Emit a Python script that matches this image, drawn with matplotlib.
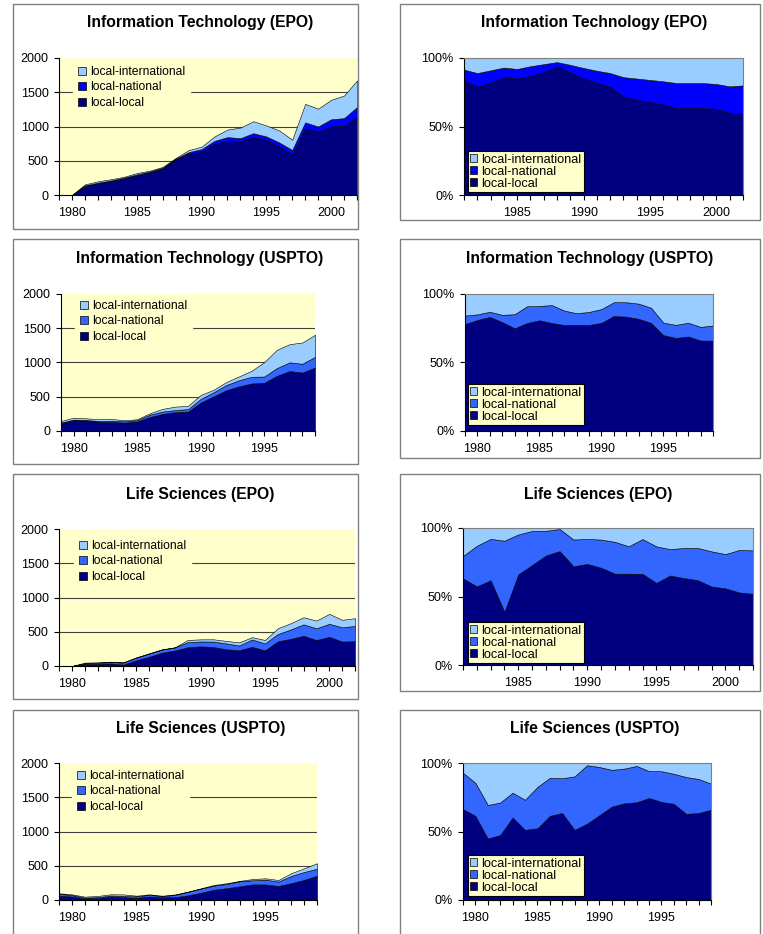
import matplotlib.pyplot as plt
from matplotlib.patches import Patch, Rectangle

plt.rcParams['font.family'] = ['Liberation Sans', 'DejaVu Sans']

W, H = 763, 934

# ---- data ----
years_epo = list(range(1979, 2003))
years_us = list(range(1979, 2000))
years_epo_pct = list(range(1981, 2003))

# Information Technology (EPO), counts
it_epo_ll = [0, 0, 130, 170, 200, 240, 285, 330, 385, 520, 600, 630, 745, 795, 780, 845, 805, 710, 595, 975, 925, 1000, 1010, 1145]
it_epo_nat = [0, 0, 10, 10, 12, 12, 15, 12, 12, 10, 25, 40, 45, 50, 50, 57, 50, 57, 62, 85, 75, 105, 112, 138]
it_epo_int = [0, 0, 15, 20, 18, 13, 20, 13, 13, 10, 30, 35, 65, 110, 155, 175, 160, 175, 150, 270, 260, 285, 330, 390]
# Information Technology (EPO), shares shown in the 100% chart
it_epo_ll_pct = [84, 79, 82, 86, 85, 87, 89.5, 94, 89.5, 85, 82, 79, 72, 69.5, 68, 66, 63.5, 63.5, 63.5, 63, 60, 60]
it_epo_nat_pct = [7.5, 10, 9, 7, 7, 7, 6, 3, 5.5, 7.7, 8.7, 10, 14, 15.5, 16, 17, 18.2, 18.2, 18.2, 18, 19.3, 20]
it_epo_int_pct = [8.5, 11, 9, 7, 8, 6, 4.5, 3, 5, 7.3, 9.3, 11, 14, 15, 16, 17, 18.3, 18.3, 18.3, 19, 20.7, 20]

# Information Technology (USPTO)
it_us_ll = [114, 158, 154, 136, 132, 123, 139, 205, 250, 276, 284, 416, 504, 595, 652, 694, 704, 806, 875, 853, 927]
it_us_nat = [9, 8, 7, 9, 18, 19, 18, 34, 34, 30, 35, 53, 60, 75, 88, 97, 91, 113, 127, 129, 155]
it_us_int = [23, 29, 24, 26, 26, 14, 15, 21, 39, 50, 48, 58, 36, 43, 56, 88, 211, 267, 266, 310, 323]

# Life Sciences (EPO)
ls_epo_ll = [0, 0, 31, 31, 39, 21, 84, 135, 195, 227, 274, 287, 277, 244, 230, 280, 228, 360, 396, 441, 380, 426, 357, 363]
ls_epo_nat = [0, 0, 8, 16, 19, 28, 37, 46, 44, 44, 74, 71, 80, 85, 69, 107, 101, 106, 137, 167, 170, 190, 209, 221]
ls_epo_int = [0, 0, 10, 7, 5, 5, 6, 4, 5, 2, 32, 31, 33, 37, 46, 34, 51, 85, 91, 104, 113, 145, 108, 114]

# Life Sciences (USPTO)
ls_us_ll = [65, 51, 22, 28, 50, 42, 33, 51, 40, 42, 68, 106, 150, 173, 199, 228, 227, 205, 246, 294, 354]
ls_us_nat = [26, 20, 12, 14, 15, 18, 19, 23, 16, 32, 52, 60, 59, 62, 74, 60, 71, 64, 105, 115, 102]
ls_us_int = [7, 12, 15, 17, 18, 22, 11, 9, 7, 8, 2, 5, 11, 10, 6, 18, 19, 23, 40, 54, 81]

labels = ['local-international', 'local-national', 'local-local']

NAVY = '#000080'
BLUE = '#0000FF'
MBLUE = '#3366FF'
LBLUE = '#99CCFF'
YELLOW = '#FFFFCC'

fig = plt.figure(figsize=(W / 100, H / 100), dpi=100)


def px_axes(x0, y0, x1, y1):
    return fig.add_axes([x0 / W, 1 - y1 / H, (x1 - x0) / W, (y1 - y0) / H])


def box(x0, y0, x1, y1):
    fig.add_artist(Rectangle((x0 / W, 1 - y1 / H), (x1 - x0) / W, (y1 - y0) / H,
                             transform=fig.transFigure, fill=False,
                             edgecolor='#808080', lw=1))


def title(x, y, s):
    fig.text(x / W, 1 - y / H, s, ha='center', va='center',
             fontsize=11.3, fontweight='bold')


def year_ticks(ax, years):
    ax.set_xticks(years)
    ax.set_xticklabels([str(y) if y % 5 == 0 else '' for y in years])
    ax.set_xlim(years[0], years[-1])
    ax.tick_params(axis='x', length=3.5, width=0.8, pad=5, labelsize=9)
    ax.tick_params(axis='y', length=3.5, width=0.8, pad=4, labelsize=9)


def handles(nat_color):
    return [Patch(facecolor=c, edgecolor='black', lw=0.5)
            for c in (LBLUE, nat_color, NAVY)]


def abs_chart(rect, years, ll, nat, intl, nat_color, leg):
    ax = px_axes(*rect)
    ax.set_facecolor(YELLOW)
    for v in (500, 1000, 1500):
        ax.axhline(v, color='#404040', lw=0.8, zorder=1)
    ax.stackplot(years, ll, nat, intl, colors=[NAVY, nat_color, LBLUE],
                 edgecolor='black', lw=0.4, zorder=2)
    ax.set_ylim(0, 2000)
    ax.set_yticks([0, 500, 1000, 1500, 2000])
    year_ticks(ax, years)
    for s in ('top', 'right'):
        ax.spines[s].set_visible(False)
    for s in ('left', 'bottom'):
        ax.spines[s].set_linewidth(0.8)
    lg = ax.legend(handles(nat_color), labels, loc='upper left',
                   bbox_to_anchor=(leg[0] / W, 1 - leg[1] / H),
                   bbox_transform=fig.transFigure, fontsize=8.7,
                   frameon=True, fancybox=False, framealpha=1,
                   facecolor=YELLOW, edgecolor=YELLOW, borderpad=0.4,
                   borderaxespad=0, handlelength=0.65, handleheight=0.65,
                   handletextpad=0.4, labelspacing=0.3)
    lg.set_zorder(5)


def pct_chart(rect, years, ll, nat, intl, nat_color, leg):
    ax = px_axes(*rect)
    tot = [a + b + c for a, b, c in zip(ll, nat, intl)]
    p_ll = [a / t * 100 for a, t in zip(ll, tot)]
    p_nat = [a / t * 100 for a, t in zip(nat, tot)]
    p_int = [a / t * 100 for a, t in zip(intl, tot)]
    ax.stackplot(years, p_ll, p_nat, p_int, colors=[NAVY, nat_color, LBLUE],
                 edgecolor='black', lw=0.4, zorder=2)
    ax.set_ylim(0, 100)
    ax.set_yticks([0, 50, 100])
    ax.set_yticklabels(['0%', '50%', '100%'])
    year_ticks(ax, years)
    for s in ('top', 'right'):
        ax.spines[s].set_color('#808080')
    for s in ('left', 'bottom'):
        ax.spines[s].set_linewidth(0.8)
    lg = ax.legend(handles(nat_color), labels, loc='upper left',
                   bbox_to_anchor=(leg[0] / W, 1 - leg[1] / H),
                   bbox_transform=fig.transFigure, fontsize=9.2,
                   frameon=True, fancybox=False, framealpha=1,
                   facecolor=YELLOW, edgecolor='black', borderpad=0.2,
                   borderaxespad=0, handlelength=0.55, handleheight=0.55,
                   handletextpad=0.35, labelspacing=0.0)
    lg.get_frame().set_linewidth(0.8)
    lg.set_zorder(5)


# panel frames
for top, lb, rb in ((4, 229, 220), (239, 464, 458), (474, 699, 691), (710, 940, 940)):
    box(13, top, 358, lb)
    box(400, top, 760, rb)

# row 1: Information Technology (EPO)
title(200, 23, 'Information Technology (EPO)')
abs_chart((59, 58, 357, 195), years_epo, it_epo_ll, it_epo_nat, it_epo_int, BLUE, (73, 61))
title(594, 23, 'Information Technology (EPO)')
pct_chart((464, 58, 743, 195), years_epo_pct, it_epo_ll_pct, it_epo_nat_pct,
          it_epo_int_pct, BLUE, (467.5, 151))

# row 2: Information Technology (USPTO)
title(200, 258, 'Information Technology (USPTO)')
abs_chart((61, 294, 315, 431), years_us, it_us_ll, it_us_nat, it_us_int, MBLUE, (75, 295))
title(590, 258, 'Information Technology (USPTO)')
pct_chart((465, 294, 713, 431), years_us, it_us_ll, it_us_nat, it_us_int, MBLUE, (467.5, 384))

# row 3: Life Sciences (EPO)
title(200, 494, 'Life Sciences (EPO)')
abs_chart((59, 529, 355, 666), years_epo, ls_epo_ll, ls_epo_nat, ls_epo_int, MBLUE, (74, 535))
title(598, 494, 'Life Sciences (EPO)')
pct_chart((463, 528, 753, 665), years_epo_pct, ls_epo_ll[2:], ls_epo_nat[2:],
          ls_epo_int[2:], MBLUE, (467.5, 622))

# row 4: Life Sciences (USPTO)
title(201, 729, 'Life Sciences (USPTO)')
abs_chart((59, 763, 317, 900), years_us, ls_us_ll, ls_us_nat, ls_us_int, MBLUE, (72, 765))
title(595, 729, 'Life Sciences (USPTO)')
pct_chart((463, 763, 711, 900), years_us, ls_us_ll, ls_us_nat, ls_us_int, MBLUE, (467.5, 855))

fig.savefig('out.png', dpi=100)
